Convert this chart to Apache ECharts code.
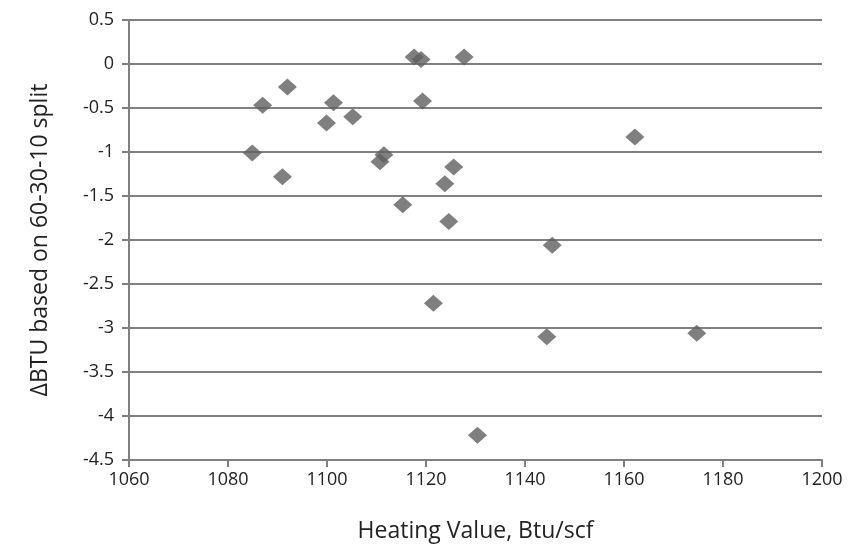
<!DOCTYPE html>
<html>
<head>
<meta charset="utf-8">
<script src="https://cdn.jsdelivr.net/npm/echarts@6/dist/echarts.min.js"></script>
<style>
html,body{margin:0;padding:0;background:#fff;}
#chart{width:852px;height:548px;}
</style>
</head>
<body>
<div id="chart"></div>
<script>
const heatingValues = [1084.9, 1087.0, 1092.0, 1091.0, 1099.9, 1101.3, 1105.2, 1110.7, 1111.5, 1115.3, 1117.6, 1119.0, 1119.3, 1127.7, 1125.6, 1123.8, 1124.6, 1121.5, 1130.4, 1144.4, 1145.5, 1162.2, 1174.7];
const deltaBTU     = [-1.01, -0.47, -0.26, -1.28, -0.67, -0.44, -0.60, -1.11, -1.03, -1.60, 0.08, 0.05, -0.42, 0.08, -1.17, -1.36, -1.79, -2.72, -4.22, -3.10, -2.06, -0.83, -3.06];
const xTicks = { min: 1060, max: 1200, interval: 20 };
const yTicks = { min: -4.5, max: 0.5, interval: 0.5 };

const points = heatingValues.map((x, i) => [x, deltaBTU[i]]);
const font = '"Open Sans", "Liberation Sans", sans-serif';
const gray = '#808080';

const chart = echarts.init(document.getElementById('chart'));
chart.setOption({
  animation: false,
  backgroundColor: '#fff',
  grid: { left: 129, right: 30, top: 20, bottom: 88 },
  xAxis: {
    type: 'value',
    min: xTicks.min, max: xTicks.max, interval: xTicks.interval,
    name: 'Heating Value, Btu/scf',
    nameLocation: 'middle', nameGap: 60,
    nameTextStyle: { fontFamily: font, fontSize: 23, color: '#222' },
    axisLine: { show: true, onZero: false, lineStyle: { color: gray, width: 2 } },
    axisTick: { show: true, length: 7, lineStyle: { color: gray, width: 2 } },
    axisLabel: { fontFamily: font, fontSize: 18, color: '#222', margin: 11, formatter: v => String(v) },
    splitLine: { show: false }
  },
  yAxis: {
    type: 'value',
    min: yTicks.min, max: yTicks.max, interval: yTicks.interval,
    name: 'ΔBTU based on 60-30-10 split',
    nameLocation: 'middle', nameGap: 77, nameRotate: 90,
    nameTextStyle: { fontFamily: font, fontSize: 23, color: '#222' },
    axisLine: { show: true, lineStyle: { color: gray, width: 2 } },
    axisTick: { show: true, length: 7, lineStyle: { color: gray, width: 2 } },
    axisLabel: { fontFamily: font, fontSize: 18, color: '#222', margin: 15, formatter: v => String(v) },
    splitLine: { show: true, lineStyle: { color: gray, width: 2 } }
  },
  series: [{
    type: 'scatter',
    data: points,
    symbol: 'diamond',
    symbolSize: [19, 17],
    itemStyle: { color: '#5f5f5f' }
  }]
});
</script>
</body>
</html>
